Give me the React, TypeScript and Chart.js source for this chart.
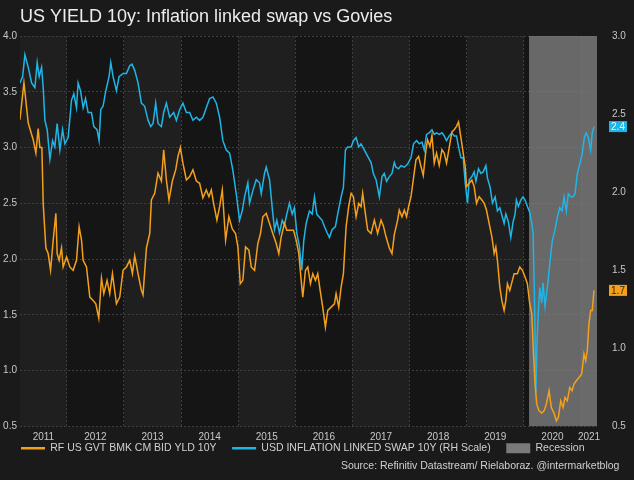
import { useEffect, useRef } from 'react';
import { Chart, registerables } from 'chart.js';

Chart.register(...registerables);

const TITLE = 'US YIELD 10y: Inflation linked swap vs Govies';
const SOURCE = 'Source: Refinitiv Datastream/ Rielaboraz. @intermarketblog';
const GOVT_LABEL = 'RF US GVT BMK CM BID YLD 10Y';
const SWAP_LABEL = 'USD INFLATION LINKED SWAP 10Y (RH Scale)';
const RECESSION_LABEL = 'Recession';

const xRange = [2011.18, 2021.28];
const yearLabels = [2011, 2012, 2013, 2014, 2015, 2016, 2017, 2018, 2019, 2020, 2021];
const leftRange = [0.5, 4.0];
const rightRange = [0.5, 3.0];
const tickStep = 0.5;
const recessionSpan = [2020.09, 2021.28];

const govtDates = [
  2011.179, 2011.249, 2011.324, 2011.411, 2011.458, 2011.498, 2011.528, 2011.563, 2011.586, 2011.633,
  2011.673, 2011.715, 2011.761, 2011.808, 2011.830, 2011.865, 2011.907, 2011.935, 2011.995, 2012.052,
  2012.110, 2012.169, 2012.215, 2012.257, 2012.285, 2012.344, 2012.402, 2012.460, 2012.507, 2012.559,
  2012.606, 2012.647, 2012.704, 2012.751, 2012.798, 2012.868, 2012.926, 2012.984, 2013.043, 2013.101,
  2013.148, 2013.188, 2013.246, 2013.305, 2013.333, 2013.393, 2013.451, 2013.480, 2013.538, 2013.596,
  2013.655, 2013.695, 2013.742, 2013.788, 2013.847, 2013.905, 2013.945, 2013.987, 2014.032, 2014.092,
  2014.150, 2014.207, 2014.267, 2014.324, 2014.382, 2014.441, 2014.487, 2014.529, 2014.569, 2014.627,
  2014.674, 2014.721, 2014.779, 2014.836, 2014.896, 2014.953, 2014.994, 2015.036, 2015.081, 2015.128,
  2015.186, 2015.228, 2015.286, 2015.343, 2015.390, 2015.431, 2015.490, 2015.548, 2015.605, 2015.665,
  2015.710, 2015.752, 2015.810, 2015.850, 2015.909, 2015.967, 2016.014, 2016.060, 2016.102, 2016.130,
  2016.177, 2016.217, 2016.264, 2016.305, 2016.352, 2016.392, 2016.434, 2016.479, 2016.526, 2016.567,
  2016.626, 2016.684, 2016.713, 2016.759, 2016.801, 2016.841, 2016.888, 2016.933, 2016.976, 2017.016,
  2017.063, 2017.109, 2017.150, 2017.178, 2017.225, 2017.266, 2017.325, 2017.383, 2017.440, 2017.500,
  2017.540, 2017.587, 2017.644, 2017.691, 2017.732, 2017.790, 2017.819, 2017.866, 2017.907, 2017.947,
  2017.982, 2018.024, 2018.064, 2018.111, 2018.157, 2018.199, 2018.239, 2018.286, 2018.314, 2018.356,
  2018.391, 2018.431, 2018.471, 2018.518, 2018.566, 2018.606, 2018.646, 2018.693, 2018.740, 2018.780,
  2018.821, 2018.856, 2018.898, 2018.938, 2018.973, 2018.996, 2019.043, 2019.090, 2019.130, 2019.171,
  2019.218, 2019.265, 2019.305, 2019.345, 2019.392, 2019.440, 2019.480, 2019.509, 2019.537, 2019.579,
  2019.614, 2019.654, 2019.684, 2019.712, 2019.753, 2019.799, 2019.829, 2019.886, 2019.928, 2019.974,
  2020.021, 2020.061, 2020.103, 2020.138, 2020.166, 2020.196, 2020.225, 2020.266, 2020.313, 2020.353,
  2020.393, 2020.441, 2020.481, 2020.528, 2020.568, 2020.603, 2020.645, 2020.686, 2020.721, 2020.761,
  2020.803, 2020.843, 2020.878, 2020.918, 2020.965, 2021.012, 2021.052, 2021.082, 2021.110, 2021.139,
  2021.169, 2021.197, 2021.227,
];

const govtValues = [
  3.25, 3.58, 3.22, 3.07, 2.95, 3.17, 3.00, 3.00, 2.50, 2.10,
  2.05, 1.90, 2.17, 2.41, 2.05, 1.99, 2.10, 1.93, 2.02, 1.93,
  1.90, 1.99, 2.29, 2.17, 1.99, 1.93, 1.66, 1.63, 1.60, 1.47,
  1.83, 1.69, 1.81, 1.69, 1.87, 1.60, 1.66, 1.90, 1.93, 1.99,
  1.87, 2.03, 1.87, 1.72, 1.68, 2.10, 2.23, 2.53, 2.59, 2.77,
  2.70, 2.98, 2.71, 2.53, 2.70, 2.80, 2.92, 3.00, 2.86, 2.71,
  2.74, 2.80, 2.70, 2.68, 2.55, 2.62, 2.56, 2.62, 2.50, 2.35,
  2.47, 2.62, 2.17, 2.38, 2.27, 2.23, 2.11, 1.78, 1.81, 2.11,
  2.08, 1.93, 1.90, 2.14, 2.23, 2.38, 2.41, 2.32, 2.23, 2.14,
  2.05, 2.20, 2.32, 2.26, 2.26, 2.26, 2.17, 2.05, 1.81, 1.66,
  1.90, 1.93, 1.78, 1.87, 1.81, 1.87, 1.72, 1.57, 1.39, 1.54,
  1.57, 1.60, 1.69, 1.57, 1.75, 1.87, 2.29, 2.47, 2.59, 2.56,
  2.38, 2.50, 2.47, 2.59, 2.41, 2.26, 2.23, 2.35, 2.23, 2.35,
  2.30, 2.20, 2.10, 2.05, 2.22, 2.35, 2.44, 2.38, 2.44, 2.38,
  2.47, 2.56, 2.71, 2.89, 2.92, 2.83, 2.75, 2.98, 3.07, 3.01,
  3.11, 2.86, 2.95, 2.84, 2.98, 2.95, 2.86, 3.00, 3.14, 3.16,
  3.19, 3.23, 3.09, 2.95, 2.83, 2.65, 2.68, 2.71, 2.65, 2.50,
  2.56, 2.53, 2.50, 2.44, 2.32, 2.20, 2.05, 2.11, 1.99, 1.75,
  1.63, 1.54, 1.63, 1.78, 1.72, 1.81, 1.87, 1.87, 1.93, 1.90,
  1.84, 1.78, 1.60, 1.51, 1.18, 0.88, 0.70, 0.64, 0.62, 0.64,
  0.70, 0.82, 0.67, 0.62, 0.55, 0.58, 0.73, 0.67, 0.76, 0.73,
  0.85, 0.82, 0.88, 0.91, 0.94, 0.97, 1.15, 1.09, 1.18, 1.42,
  1.54, 1.54, 1.72,
];

const swapDates = [
  2011.179, 2011.226, 2011.266, 2011.324, 2011.383, 2011.441, 2011.481, 2011.516, 2011.558, 2011.586,
  2011.616, 2011.656, 2011.703, 2011.750, 2011.790, 2011.830, 2011.878, 2011.925, 2011.965, 2012.023,
  2012.082, 2012.122, 2012.169, 2012.197, 2012.239, 2012.285, 2012.327, 2012.372, 2012.431, 2012.472,
  2012.529, 2012.564, 2012.594, 2012.634, 2012.682, 2012.739, 2012.769, 2012.809, 2012.868, 2012.914,
  2012.984, 2013.043, 2013.101, 2013.141, 2013.188, 2013.246, 2013.305, 2013.363, 2013.421, 2013.468,
  2013.509, 2013.555, 2013.596, 2013.655, 2013.695, 2013.742, 2013.800, 2013.870, 2013.917, 2013.975,
  2014.032, 2014.092, 2014.150, 2014.207, 2014.267, 2014.324, 2014.382, 2014.441, 2014.499, 2014.557,
  2014.616, 2014.674, 2014.731, 2014.791, 2014.849, 2014.906, 2014.965, 2015.023, 2015.070, 2015.111,
  2015.168, 2015.198, 2015.256, 2015.315, 2015.373, 2015.403, 2015.460, 2015.490, 2015.548, 2015.595,
  2015.635, 2015.675, 2015.722, 2015.770, 2015.810, 2015.850, 2015.897, 2015.944, 2015.984, 2016.025,
  2016.072, 2016.112, 2016.147, 2016.189, 2016.246, 2016.294, 2016.334, 2016.374, 2016.421, 2016.468,
  2016.509, 2016.556, 2016.596, 2016.643, 2016.701, 2016.741, 2016.801, 2016.841, 2016.876, 2016.916,
  2016.976, 2017.016, 2017.063, 2017.109, 2017.150, 2017.208, 2017.266, 2017.325, 2017.365, 2017.412,
  2017.470, 2017.517, 2017.557, 2017.597, 2017.644, 2017.691, 2017.732, 2017.762, 2017.807, 2017.849,
  2017.907, 2017.965, 2018.024, 2018.069, 2018.122, 2018.169, 2018.216, 2018.256, 2018.296, 2018.343,
  2018.391, 2018.431, 2018.471, 2018.518, 2018.566, 2018.606, 2018.646, 2018.693, 2018.740, 2018.780,
  2018.821, 2018.856, 2018.898, 2018.938, 2018.973, 2019.013, 2019.043, 2019.090, 2019.130, 2019.160,
  2019.205, 2019.247, 2019.288, 2019.335, 2019.363, 2019.410, 2019.450, 2019.497, 2019.537, 2019.579,
  2019.624, 2019.654, 2019.684, 2019.729, 2019.771, 2019.811, 2019.846, 2019.869, 2019.904, 2019.946,
  2019.986, 2020.021, 2020.061, 2020.103, 2020.138, 2020.161, 2020.184, 2020.210, 2020.231, 2020.253,
  2020.278, 2020.313, 2020.335, 2020.370, 2020.411, 2020.453, 2020.498, 2020.545, 2020.586, 2020.628,
  2020.668, 2020.703, 2020.743, 2020.778, 2020.825, 2020.860, 2020.895, 2020.936, 2020.978, 2021.023,
  2021.058, 2021.093, 2021.128, 2021.169, 2021.197, 2021.227,
];

const swapValues = [
  2.70, 2.74, 2.88, 2.80, 2.70, 2.67, 2.83, 2.74, 2.80, 2.67,
  2.46, 2.40, 2.21, 2.33, 2.29, 2.44, 2.27, 2.40, 2.31, 2.35,
  2.59, 2.63, 2.54, 2.70, 2.65, 2.54, 2.60, 2.51, 2.51, 2.42,
  2.40, 2.33, 2.53, 2.55, 2.65, 2.74, 2.83, 2.74, 2.65, 2.74,
  2.76, 2.76, 2.81, 2.82, 2.78, 2.70, 2.57, 2.55, 2.46, 2.42,
  2.44, 2.57, 2.44, 2.42, 2.51, 2.57, 2.48, 2.51, 2.46, 2.53,
  2.57, 2.51, 2.51, 2.46, 2.48, 2.46, 2.48, 2.54, 2.60, 2.61,
  2.57, 2.48, 2.33, 2.27, 2.25, 2.14, 1.99, 1.82, 1.88, 1.97,
  2.06, 1.93, 2.01, 2.08, 2.06, 1.99, 2.12, 2.16, 2.08, 1.90,
  1.76, 1.82, 1.74, 1.82, 1.79, 1.86, 1.93, 1.86, 1.90, 1.74,
  1.65, 1.50, 1.69, 1.80, 1.88, 1.86, 1.97, 1.86, 1.84, 1.82,
  1.78, 1.74, 1.71, 1.76, 1.78, 1.86, 1.97, 2.03, 2.27, 2.29,
  2.29, 2.33, 2.35, 2.29, 2.31, 2.27, 2.23, 2.19, 2.12, 2.08,
  1.97, 2.10, 2.12, 2.07, 2.10, 2.12, 2.19, 2.16, 2.15, 2.17,
  2.16, 2.18, 2.22, 2.31, 2.33, 2.31, 2.32, 2.27, 2.37, 2.38,
  2.40, 2.37, 2.38, 2.37, 2.38, 2.36, 2.33, 2.36, 2.38, 2.36,
  2.36, 2.29, 2.22, 2.22, 2.06, 1.93, 2.08, 2.10, 2.13, 2.07,
  2.15, 2.12, 2.13, 2.17, 2.09, 2.03, 1.93, 1.97, 1.88, 1.90,
  1.84, 1.80, 1.86, 1.81, 1.71, 1.81, 1.86, 1.95, 1.91, 1.95,
  1.97, 1.95, 1.91, 1.87, 1.80, 1.74, 1.35, 0.72, 1.05, 1.23,
  1.39, 1.29, 1.42, 1.27, 1.39, 1.54, 1.69, 1.76, 1.84, 1.90,
  1.88, 1.97, 1.88, 1.99, 1.97, 1.97, 1.99, 2.12, 2.18, 2.25,
  2.35, 2.38, 2.35, 2.27, 2.38, 2.42,
];

const ORANGE = '#F5A01C';
const BLUE = '#1FB5E6';
const RECESSION_FILL = 'rgba(128,128,128,0.78)';
const BG = '#1a1a1a';
const STRIPE_LIGHT = '#1f1f1f';
const STRIPE_DARK = '#151515';
const GRID = '#3e3e3e';
const TEXT = '#c8c8c8';
const FONT = '"Liberation Sans", Arial, sans-serif';
const LEGEND_GAP = '     ';
const SOURCE_MARGIN = '     ';

const backgroundPlugin = {
  id: 'yearStripes',
  beforeDraw(chart: any) {
    const { ctx, chartArea: a } = chart;
    const xs = chart.scales.x;
    ctx.save();
    ctx.fillStyle = BG;
    ctx.fillRect(0, 0, chart.width, chart.height);
    yearLabels.forEach((yr, i) => {
      const x0 = Math.max(xs.getPixelForValue(yr), a.left);
      const x1 = Math.min(xs.getPixelForValue(yr + 1), a.right);
      if (x1 <= x0) return;
      ctx.fillStyle = i % 2 === 0 ? STRIPE_LIGHT : STRIPE_DARK;
      ctx.fillRect(x0, a.top, x1 - x0, a.bottom - a.top);
    });
    ctx.restore();
  },
};

const lastValueTags = {
  id: 'lastValueTags',
  afterDraw(chart: any) {
    const { ctx, chartArea: a } = chart;
    const tags = [
      { scale: chart.scales.y, v: govtValues[govtValues.length - 1], color: ORANGE, text: '#3b2606' },
      { scale: chart.scales.y2, v: swapValues[swapValues.length - 1], color: BLUE, text: '#eaf7fd' },
    ];
    ctx.save();
    tags.forEach((t) => {
      const y = t.scale.getPixelForValue(t.v);
      ctx.fillStyle = t.color;
      ctx.fillRect(a.right + 12, y - 5.5, 18, 11);
      ctx.fillStyle = t.text;
      ctx.font = `10px ${FONT}`;
      ctx.textAlign = 'center';
      ctx.textBaseline = 'middle';
      ctx.fillText(t.v.toFixed(1), a.right + 21, y + 0.5);
    });
    ctx.restore();
  },
};

export default function App() {
  const ref = useRef<HTMLCanvasElement | null>(null);

  useEffect(() => {
    document.body.style.margin = '0';
    document.body.style.background = BG;
    const canvas = ref.current;
    if (!canvas) return;

    const govtData = govtDates.map((d, i) => ({ x: d, y: govtValues[i] }));
    const swapData = swapDates.map((d, i) => ({ x: d, y: swapValues[i] }));
    const recessionData = recessionSpan.map((d) => ({ x: d, y: 1 }));

    const chart = new Chart(canvas, {
      type: 'line',
      data: {
        datasets: [
          {
            label: GOVT_LABEL,
            data: govtData,
            yAxisID: 'y',
            xAxisID: 'x',
            borderColor: ORANGE,
            backgroundColor: ORANGE,
            borderWidth: 1.5,
            pointRadius: 0,
            tension: 0,
            order: 1,
          },
          {
            label: SWAP_LABEL,
            data: swapData,
            yAxisID: 'y2',
            xAxisID: 'x',
            borderColor: BLUE,
            backgroundColor: BLUE,
            borderWidth: 1.5,
            pointRadius: 0,
            tension: 0,
            order: 2,
          },
          {
            label: RECESSION_LABEL,
            data: recessionData,
            yAxisID: 'yR',
            xAxisID: 'x',
            borderWidth: 0,
            borderColor: 'rgba(0,0,0,0)',
            backgroundColor: RECESSION_FILL,
            fill: 'start',
            pointRadius: 0,
            order: 3,
          },
        ],
      },
      options: {
        animation: false,
        responsive: false,
        maintainAspectRatio: false,
        events: [],
        layout: { padding: { left: 0, right: 0, top: 0, bottom: 0 } },
        plugins: {
          title: {
            display: true,
            text: TITLE,
            align: 'start',
            fullSize: false,
            color: '#ececec',
            font: { family: FONT, size: 18, weight: 'normal' },
            padding: { top: 6.4, bottom: 8 },
          },
          subtitle: {
            display: true,
            text: SOURCE + SOURCE_MARGIN,
            position: 'bottom',
            align: 'end',
            color: '#d0d0d0',
            font: { family: FONT, size: 10.5, weight: 'normal' },
            padding: { top: -4, bottom: 7.9 },
          },
          legend: {
            position: 'bottom',
            align: 'start',
            fullSize: false,
            labels: {
              color: '#d0d0d0',
              font: { family: FONT, size: 10.5 },
              usePointStyle: true,
              pointStyleWidth: 24,
              boxHeight: 10,
              padding: 1,
              generateLabels: (c: any) =>
                c.data.datasets.map((ds: any, i: number) => ({
                  text: i < 2 ? ds.label + LEGEND_GAP : ds.label,
                  fillStyle: i < 2 ? ds.borderColor : '#7a7a7a',
                  strokeStyle: i < 2 ? ds.borderColor : '#7a7a7a',
                  lineWidth: i < 2 ? 2.5 : 0,
                  pointStyle: i < 2 ? 'line' : 'rect',
                  fontColor: '#d0d0d0',
                  hidden: false,
                  datasetIndex: i,
                })),
            },
          },
          tooltip: { enabled: false },
        },
        scales: {
          x: {
            type: 'linear',
            position: 'bottom',
            min: xRange[0],
            max: xRange[1],
            afterBuildTicks: (s: any) => {
              s.ticks = yearLabels.map((yr) => ({
                value: (Math.max(yr, xRange[0]) + Math.min(yr + 1, xRange[1])) / 2,
              }));
            },
            afterFit: (s: any) => {
              s.height = 15.5;
            },
            ticks: {
              callback: (v: any) => String(Math.floor(Number(v))),
              color: TEXT,
              font: { family: FONT, size: 10 },
              padding: 5,
              autoSkip: false,
              maxRotation: 0,
            },
            grid: { display: false, drawTicks: false },
            border: { display: false },
          },
          xg: {
            type: 'linear',
            position: 'top',
            min: xRange[0],
            max: xRange[1],
            afterBuildTicks: (s: any) => {
              s.ticks = yearLabels.slice(1).map((yr) => ({ value: yr }));
            },
            afterFit: (s: any) => {
              s.height = 0;
            },
            ticks: { display: false },
            grid: { color: GRID, lineWidth: 1, drawTicks: false },
            border: { display: false, dash: [2, 2] },
          },
          y: {
            type: 'linear',
            position: 'left',
            min: leftRange[0],
            max: leftRange[1],
            afterFit: (s: any) => {
              s.width = 20;
            },
            ticks: {
              stepSize: tickStep,
              callback: (v: any) => Number(v).toFixed(1),
              color: TEXT,
              font: { family: FONT, size: 10 },
              padding: 3,
            },
            grid: { color: GRID, lineWidth: 1, drawTicks: false },
            border: { display: false, dash: [2, 2] },
          },
          y2: {
            type: 'linear',
            position: 'right',
            min: rightRange[0],
            max: rightRange[1],
            afterFit: (s: any) => {
              s.width = 37;
            },
            ticks: {
              stepSize: tickStep,
              callback: (v: any) => Number(v).toFixed(1),
              color: TEXT,
              font: { family: FONT, size: 10 },
              padding: 15,
            },
            grid: { display: false, drawTicks: false },
            border: { display: false },
          },
          yR: {
            type: 'linear',
            display: false,
            min: 0,
            max: 1,
          },
        },
      },
      plugins: [backgroundPlugin, lastValueTags],
    } as any);

    return () => chart.destroy();
  }, []);

  return (
    <div style={{ width: 634, height: 480, background: BG }}>
      <canvas ref={ref} width={634} height={480} style={{ display: 'block' }} />
    </div>
  );
}
